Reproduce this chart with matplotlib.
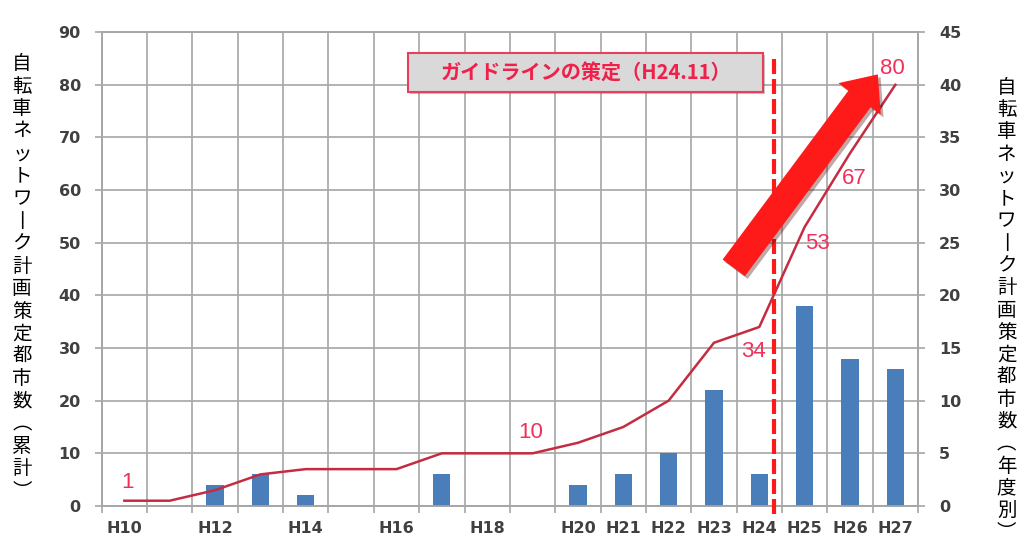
import matplotlib.pyplot as plt
import matplotlib.patheffects as pe
from matplotlib.patches import Rectangle, FancyArrowPatch

years = ['H10', 'H11', 'H12', 'H13', 'H14', 'H15', 'H16', 'H17', 'H18',
         'H19', 'H20', 'H21', 'H22', 'H23', 'H24', 'H25', 'H26', 'H27']
tick_labels = ['H10', '', 'H12', '', 'H14', '', 'H16', '', 'H18',
               '', 'H20', 'H21', 'H22', 'H23', 'H24', 'H25', 'H26', 'H27']
annual = [0, 0, 2, 3, 1, 0, 0, 3, 0, 0, 2, 3, 5, 11, 3, 19, 14, 13]
cumulative = [1, 1, 3, 6, 7, 7, 7, 10, 10, 10, 12, 15, 20, 31, 34, 53, 67, 80]

# which points get a number, and where the number sits (offset in points)
label_offsets = {0: (2, 13), 9: (-1, 15), 14: (-4, -18), 15: (9, -12),
                 16: (3, -18), 17: (-2, 12)}

left_label = '自転車ネットワーク計画策定都市数（累計）'
right_label = '自転車ネットワーク計画策定都市数（年度別）'
guide_text = 'ガイドラインの策定（H24.11）'
guide_x = 14.33   # H24.11

grid_c = '#a6a6a6'
tick_c = '#404040'
red = '#ff1a1a'
num_c = '#f0305a'

fig = plt.figure(figsize=(10.23, 5.44), dpi=100)
ax = fig.add_axes([0.0994, 0.0699, 0.798, 0.871])
ax2 = ax.twinx()
ax.set_zorder(ax2.get_zorder() + 1)
ax.patch.set_visible(False)

x = list(range(len(years)))

# bars (yearly) on the right axis, behind
ax2.bar(x, annual, width=0.38, color='#4a7ebb', zorder=3)
ax2.set_ylim(0, 45)
ax2.set_yticks(range(0, 46, 5))
ax2.grid(which='major', axis='y', color=grid_c, lw=1.2, zorder=0)
ax2.set_axisbelow(True)

# cumulative line on the left axis
ax.plot(x, cumulative, color='#c42c42', lw=1.8, zorder=4)
ax.set_ylim(0, 90)
ax.set_yticks(range(0, 91, 10))
ax.set_xlim(-0.5, len(years) - 0.5)
ax.set_xticks(x)
ax.set_xticklabels(tick_labels)
ax.set_xticks([i - 0.5 for i in range(len(years) + 1)], minor=True)
ax.grid(which='minor', axis='x', color=grid_c, lw=1.2)
ax.set_axisbelow(True)

for i, (dx, dy) in label_offsets.items():
    ax.annotate(str(cumulative[i]), (x[i], cumulative[i]), xytext=(dx, dy),
                textcoords='offset points', ha='center', va='center',
                fontsize=16, color=num_c, family='Liberation Sans', zorder=6)

for a in (ax, ax2):
    for s in a.spines.values():
        s.set_color(grid_c)
        s.set_linewidth(1.2)
    a.tick_params(axis='y', color=grid_c, length=5, width=1.2, labelcolor=tick_c)
ax.tick_params(axis='x', which='major', length=0, pad=11, labelcolor=tick_c)
ax.tick_params(axis='x', which='minor', length=5, width=1.2, color=grid_c)
for t in ax.get_xticklabels() + ax.get_yticklabels() + ax2.get_yticklabels():
    t.set_fontweight('bold')
    t.set_fontsize(11.5)
    t.set_family('DejaVu Sans')
ax.tick_params(axis='y', pad=10)
ax2.tick_params(axis='y', pad=10)

# guideline marker
ax.plot([guide_x, guide_x], [-1.5, 85], color=red, lw=3, dashes=(3.6, 1.2),
        clip_on=False, zorder=5)
ax.add_patch(Rectangle((6.25, 78.6), 14.09 - 6.25, 86.0 - 78.6,
                       facecolor='#d9d9d9', edgecolor='#e8405a', lw=1.5, zorder=5,
                       path_effects=[pe.SimplePatchShadow(offset=(1.5, -1.5), alpha=0.3),
                                     pe.Normal()]))
ax.text((6.25 + 14.09) / 2, 82.3, guide_text, ha='center', va='center',
        fontsize=14.5, fontweight='bold', color='#f0204a',
        family=['Noto Sans CJK JP', 'DejaVu Sans'], zorder=6)

# big arrow
arrow = FancyArrowPatch((13.4, 44.8), (16.65, 82.4),
                        arrowstyle='simple,head_length=1.1,head_width=1.9,tail_width=1.0',
                        mutation_scale=20, color=red, lw=0, zorder=5,
                        path_effects=[pe.SimplePatchShadow(offset=(2, -2), alpha=0.35),
                                      pe.Normal()])
ax.add_patch(arrow)


# vertical (stacked) axis titles
def stack(s):
    rep = {'ー': '丨', '（': '︵', '）': '︶'}
    return '\n'.join(rep.get(c, c) for c in s)


fig.text(0.0215, 0.49, stack(left_label), ha='center', va='center', fontsize=14,
         linespacing=1.095, family=['Noto Sans CJK JP', 'DejaVu Sans'])
fig.text(0.984, 0.43, stack(right_label), ha='center', va='center', fontsize=14,
         linespacing=1.08, family=['Noto Sans CJK JP', 'DejaVu Sans'])

fig.savefig('out.png', dpi=100)
